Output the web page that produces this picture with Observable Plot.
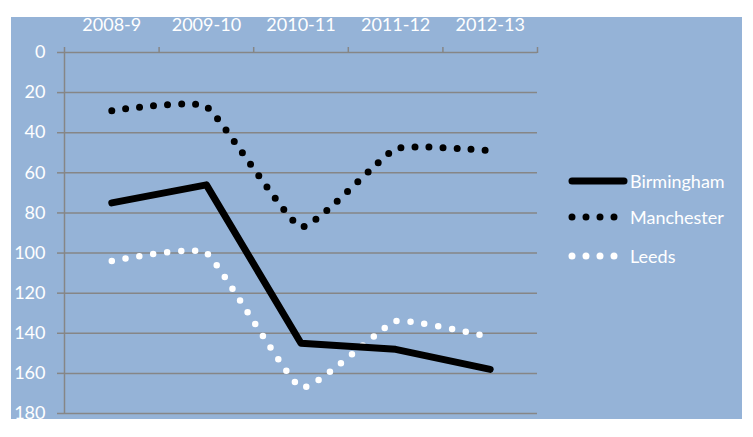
<!DOCTYPE html>
<html>
<head>
<meta charset="utf-8">
<script src="https://cdn.jsdelivr.net/npm/d3@7"></script>
<script src="https://cdn.jsdelivr.net/npm/@observablehq/plot@0.6"></script>
<style>
  html, body { margin: 0; padding: 0; background: #ffffff; }
  body { width: 753px; height: 437px; position: relative; overflow: hidden; font-family: Lato, sans-serif; }
  #panel { position: absolute; left: 11px; top: 17px; width: 731px; height: 402px; background: #95B3D7; }
  #chart { position: absolute; left: 0; top: 0; }
  #legend { position: absolute; left: 557px; top: 152px; }
  .item { position: absolute; left: 0; height: 24px; display: flex; align-items: center; white-space: nowrap; }
  .item span { color: #ffffff; font-size: 18px; margin-left: 2px; }
</style>
</head>
<body>
<div id="panel"><div id="chart"></div><div id="legend"></div></div>
<script>
const categories = ["2008-9", "2009-10", "2010-11", "2011-12", "2012-13"];
const birmingham = [75, 66, 145, 148, 158];
const manchester = [29, 27, 87, 48, 49];
const leeds = [104, 100, 167, 134, 142];
const yTicks = [0, 20, 40, 60, 80, 100, 120, 140, 160, 180];
const seriesNames = ["Birmingham", "Manchester", "Leeds"];
const seriesColors = ["#000000", "#000000", "#ffffff"];

const rows = (arr) => categories.map((c, i) => ({ i, v: arr[i] }));
const idx = categories.map((c, i) => i);
const bounds = categories.map((c, i) => i - 0.5).concat([categories.length - 0.5]);
const grid = "#868686";

const chart = Plot.plot({
  width: 731,
  height: 402,
  marginLeft: 53,
  marginRight: 205,
  marginTop: 35,
  marginBottom: 6,
  style: { background: "transparent", fontFamily: "Lato, sans-serif", fontSize: "18px", color: "#ffffff", overflow: "visible" },
  x: { type: "linear", domain: [-0.5, categories.length - 0.5] },
  y: { domain: [0, 180], reverse: true },
  marks: [
    Plot.ruleY(yTicks, { stroke: grid, strokeWidth: 1.5 }),
    Plot.ruleX([-0.5], { y1: 0, y2: 180, stroke: grid, strokeWidth: 1.5 }),
    Plot.axisY({ ticks: yTicks, tickSize: 7, tickPadding: 12, stroke: grid, strokeWidth: 1.5, fill: "#ffffff", label: null, tickFormat: d => String(d) }),
    Plot.axisX({ anchor: "top", ticks: bounds, tickSize: 6, tickFormat: () => "", stroke: grid, strokeWidth: 1.5, label: null }),
    Plot.axisX({ anchor: "top", ticks: idx, tickSize: 0, tickPadding: 22, tickFormat: i => categories[i], fill: "#ffffff", label: null }),
    Plot.line(rows(leeds), { x: "i", y: "v", stroke: "#ffffff", strokeWidth: 6.5, strokeDasharray: "0 14", strokeLinecap: "round", curve: "cardinal", tension: 0.6 }),
    Plot.line(rows(manchester), { x: "i", y: "v", stroke: "#000000", strokeWidth: 7, strokeDasharray: "0 14", strokeLinecap: "round", curve: "cardinal", tension: 0.6 }),
    Plot.line(rows(birmingham), { x: "i", y: "v", stroke: "#000000", strokeWidth: 7, strokeLinecap: "round", strokeLinejoin: "round" })
  ]
});
document.getElementById("chart").appendChild(chart);

// legend
const legend = document.getElementById("legend");
const tops = [0, 36, 75];
seriesNames.forEach((name, k) => {
  const item = document.createElement("div");
  item.className = "item";
  item.style.top = tops[k] + "px";
  const dashed = k > 0;
  const svg = `<svg width="60" height="14"><line x1="4" y1="7" x2="${dashed ? 48 : 56}" y2="7" stroke="${seriesColors[k]}" stroke-width="7" stroke-linecap="round" ${dashed ? 'stroke-dasharray="0 14"' : ''}/></svg>`;
  item.innerHTML = svg + `<span>${name}</span>`;
  legend.appendChild(item);
});
</script>
</body>
</html>
